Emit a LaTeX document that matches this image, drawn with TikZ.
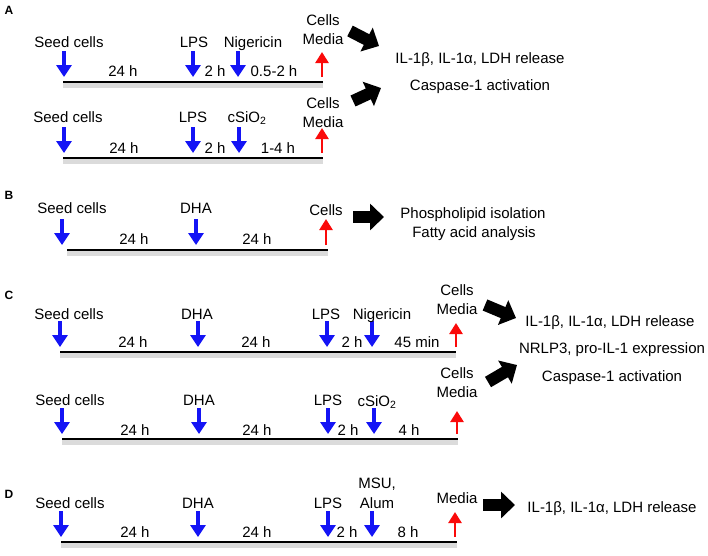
\documentclass[tikz,border=0pt]{standalone}
\usepackage{fontspec}
\setmainfont{Liberation Sans}
\usetikzlibrary{arrows.meta,positioning}

\definecolor{treatblue}{RGB}{20,20,245}
\definecolor{harvestred}{RGB}{250,10,10}

\tikzset{
  treat/.style={draw=treatblue,line width=3.5pt,-{Triangle[length=12pt,width=15pt]}},
  harvest/.style={draw=harvestred,line width=2.5pt,-{Triangle[length=11pt,width=13pt]}},
  timeline/.style={line width=2.6pt},
  shade/.style={line width=5pt,draw=black!14},
  readout/.style={line width=12pt,-{Triangle[length=14pt,width=26pt]}},
  panel/.style={font=\fontsize{12}{14}\selectfont\bfseries,text height=8.6pt}
}

\begin{document}
\begin{tikzpicture}[x=1pt,y=-1pt,
    every node/.style={font=\fontsize{15}{18}\selectfont,inner sep=0pt,
      text height=11pt,text depth=0pt}]
  \useasboundingbox (0,0) rectangle (708,555);

  % panel A, nigericin
  \node[panel] (A) at (9,10) {A};
  \coordinate (A1start) at (63,82);
  \coordinate (A1stop) at (323,82);
  \draw[shade] ([yshift=-3pt]A1start) -- ([yshift=-3pt]A1stop);
  \draw[timeline] (A1start) -- (A1stop);
  \foreach \x [count=\i] in {64,193,238}{
    \coordinate (A1in\i) at (\x,51);
    \coordinate (A1on\i) at (\x,77);
    \draw[treat] (A1in\i) -- (A1on\i);
  }
  \coordinate (A1base) at (322,77);
  \coordinate (A1out) at (322,52);
  \draw[harvest] (A1base) -- (A1out);
  \node (seedA1) at (69,42) {Seed cells};
  \node (lpsA1) at (194,42) {LPS};
  \node (nigA1) at (253,42) {Nigericin};
  \node (dayA1) at (123,71) {24 h};
  \node (primeA1) at (215,71) {2 h};
  \node (stimA1) at (274,71) {0.5-2 h};
  \node (cellsA1) at (323,20) {Cells};
  \node (mediaA1) [below=8pt of cellsA1] {Media};

  % panel A, silica
  \coordinate (A2start) at (63,158);
  \coordinate (A2stop) at (323,158);
  \draw[shade] ([yshift=-3pt]A2start) -- ([yshift=-3pt]A2stop);
  \draw[timeline] (A2start) -- (A2stop);
  \foreach \x [count=\i] in {64,193,239}{
    \coordinate (A2in\i) at (\x,127);
    \coordinate (A2on\i) at (\x,153);
    \draw[treat] (A2in\i) -- (A2on\i);
  }
  \coordinate (A2base) at (322,153);
  \coordinate (A2out) at (322,128);
  \draw[harvest] (A2base) -- (A2out);
  \node (seedA2) at (68,117) {Seed cells};
  \node (lpsA2) at (193,117) {LPS};
  \node (silA2) at (247,117) {cSiO\textsubscript{2}};
  \node (dayA2) at (124,148) {24 h};
  \node (primeA2) at (215,148) {2 h};
  \node (stimA2) at (278,148) {1-4 h};
  \node (cellsA2) at (323,103) {Cells};
  \node (mediaA2) [below=8pt of cellsA2] {Media};

  \coordinate (A1from) at (350,31);
  \coordinate (A1to) at (379,46);
  \coordinate (A2from) at (353,101);
  \coordinate (A2to) at (381,88);
  \draw[readout] (A1from) -- (A1to);
  \draw[readout] (A2from) -- (A2to);
  \node (relA) at (480,58) {IL-1β, IL-1α, LDH release};
  \node (caspA) at (480,85) {Caspase-1 activation};

  % panel B
  \node[panel] (B) at (9,195) {B};
  \coordinate (Bstart) at (67,250);
  \coordinate (Bstop) at (328,250);
  \draw[shade] ([yshift=-3pt]Bstart) -- ([yshift=-3pt]Bstop);
  \draw[timeline] (Bstart) -- (Bstop);
  \foreach \x [count=\i] in {62,196}{
    \coordinate (Bin\i) at (\x,219);
    \coordinate (Bon\i) at (\x,245);
    \draw[treat] (Bin\i) -- (Bon\i);
  }
  \coordinate (Bbase) at (326,245);
  \coordinate (Bout) at (326,219);
  \draw[harvest] (Bbase) -- (Bout);
  \node (seedB) at (72,208) {Seed cells};
  \node (dhaB) at (196,208) {DHA};
  \node (dayB1) at (134,239) {24 h};
  \node (dayB2) at (257,239) {24 h};
  \node (cellsB) at (326,210) {Cells};
  \coordinate (Bfrom) at (353,217);
  \coordinate (Bto) at (384,217);
  \draw[readout] (Bfrom) -- (Bto);
  \node (lipidB) at (473,213) {Phospholipid isolation};
  \node (fattyB) at (474,232) {Fatty acid analysis};

  % panel C, nigericin
  \node[panel] (C) at (9,295) {C};
  \coordinate (C1start) at (60,352);
  \coordinate (C1stop) at (456,352);
  \draw[shade] ([yshift=-3pt]C1start) -- ([yshift=-3pt]C1stop);
  \draw[timeline] (C1start) -- (C1stop);
  \foreach \x [count=\i] in {60,198,327,372}{
    \coordinate (C1in\i) at (\x,321);
    \coordinate (C1on\i) at (\x,347);
    \draw[treat] (C1in\i) -- (C1on\i);
  }
  \coordinate (C1base) at (456,347);
  \coordinate (C1out) at (456,323);
  \draw[harvest] (C1base) -- (C1out);
  \node (seedC1) at (69,314) {Seed cells};
  \node (dhaC1) at (197,314) {DHA};
  \node (lpsC1) at (326,314) {LPS};
  \node (nigC1) at (382,314) {Nigericin};
  \node (dayC1a) at (133,342) {24 h};
  \node (dayC1b) at (256,342) {24 h};
  \node (primeC1) at (352,342) {2 h};
  \node (stimC1) at (417,342) {45 min};
  \node (cellsC1) at (457,290) {Cells};
  \node (mediaC1) [below=8pt of cellsC1] {Media};

  % panel C, silica
  \coordinate (C2start) at (62,439);
  \coordinate (C2stop) at (458,439);
  \draw[shade] ([yshift=-3pt]C2start) -- ([yshift=-3pt]C2stop);
  \draw[timeline] (C2start) -- (C2stop);
  \foreach \x [count=\i] in {62,199,328,374}{
    \coordinate (C2in\i) at (\x,408);
    \coordinate (C2on\i) at (\x,434);
    \draw[treat] (C2in\i) -- (C2on\i);
  }
  \coordinate (C2base) at (457,434);
  \coordinate (C2out) at (457,411);
  \draw[harvest] (C2base) -- (C2out);
  \node (seedC2) at (70,400) {Seed cells};
  \node (dhaC2) at (199,400) {DHA};
  \node (lpsC2) at (328,400) {LPS};
  \node (silC2) at (377,401) {cSiO\textsubscript{2}};
  \node (dayC2a) at (135,430) {24 h};
  \node (dayC2b) at (257,430) {24 h};
  \node (primeC2) at (348,430) {2 h};
  \node (stimC2) at (409,430) {4 h};
  \node (cellsC2) at (457,373) {Cells};
  \node (mediaC2) [below=8pt of cellsC2] {Media};

  \coordinate (C1from) at (485,305);
  \coordinate (C1to) at (516,318);
  \coordinate (C2from) at (488,382);
  \coordinate (C2to) at (517,365);
  \draw[readout] (C1from) -- (C1to);
  \draw[readout] (C2from) -- (C2to);
  \node (relC) at (610,321) {IL-1β, IL-1α, LDH release};
  \node (nlrpC) at (612,348) {NRLP3, pro-IL-1 expression};
  \node (caspC) at (612,376) {Caspase-1 activation};

  % panel D
  \node[panel] (D) at (9,494) {D};
  \coordinate (Dstart) at (61,542);
  \coordinate (Dstop) at (457,542);
  \draw[shade] ([yshift=-3pt]Dstart) -- ([yshift=-3pt]Dstop);
  \draw[timeline] (Dstart) -- (Dstop);
  \foreach \x [count=\i] in {61,198,328,372}{
    \coordinate (Din\i) at (\x,511);
    \coordinate (Don\i) at (\x,537);
    \draw[treat] (Din\i) -- (Don\i);
  }
  \coordinate (Dbase) at (455,537);
  \coordinate (Dout) at (455,512);
  \draw[harvest] (Dbase) -- (Dout);
  \node (seedD) at (70,503) {Seed cells};
  \node (dhaD) at (198,503) {DHA};
  \node (lpsD) at (328,503) {LPS};
  \node (msuD) at (377,483) {MSU,};
  \node (alumD) [below=9pt of msuD] {Alum};
  \node (dayDa) at (135,532) {24 h};
  \node (dayDb) at (257,532) {24 h};
  \node (primeD) at (347,532) {2 h};
  \node (stimD) at (408,532) {8 h};
  \node (mediaD) at (457,498) {Media};
  \coordinate (Dfrom) at (483,505);
  \coordinate (Dto) at (515,505);
  \draw[readout] (Dfrom) -- (Dto);
  \node (relD) at (612,507) {IL-1β, IL-1α, LDH release};
\end{tikzpicture}
\end{document}
